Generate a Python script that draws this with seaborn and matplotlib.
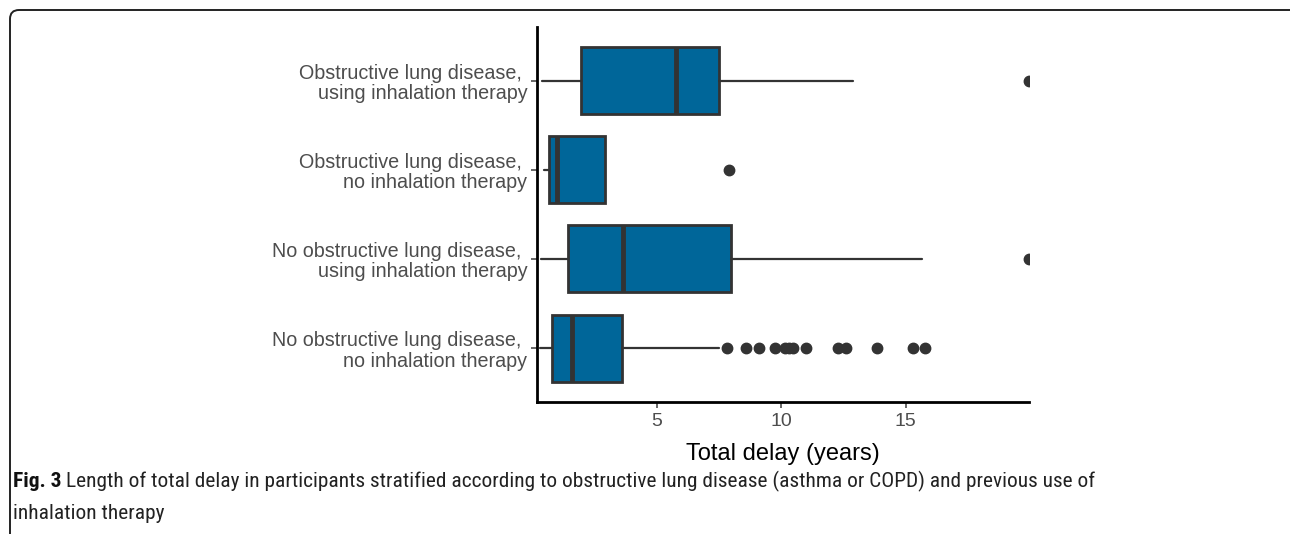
import numpy as np
import matplotlib
matplotlib.use("Agg")
import matplotlib.pyplot as plt
import seaborn as sns
from matplotlib.patches import FancyBboxPatch

# groups, top to bottom as in the figure
groups = [
    "Obstructive lung disease, \nusing inhalation therapy",
    "Obstructive lung disease, \nno inhalation therapy",
    "No obstructive lung disease, \nusing inhalation therapy",
    "No obstructive lung disease, \nno inhalation therapy",
]
# box statistics (years)
whis_lo = [0.39, 0.46, 0.33, 0.28]
q1 = [1.95, 0.66, 1.44, 0.77]
median = [5.76, 1.00, 3.63, 1.57]
q3 = [7.50, 2.91, 7.96, 3.61]
whis_hi = [12.88, 2.91, 15.63, 7.49]
outliers = [
    [19.95],
    [7.89],
    [19.95],
    [7.80, 8.56, 9.08, 9.73, 10.14, 10.29, 10.45, 10.98, 12.28, 12.58, 13.86, 15.29, 15.78],
]
x_ticks = [5, 10, 15]

sns.set_theme(style="ticks")
plt.rcParams["font.family"] = ["Liberation Sans", "DejaVu Sans"]

fig = plt.figure(figsize=(12.9, 5.34), dpi=100)
ax = fig.add_axes([0.4163, 0.2478, 0.3814, 0.7016])

stats = []
for i in range(len(groups)):
    stats.append(dict(whislo=whis_lo[i], q1=q1[i], med=median[i], q3=q3[i],
                      whishi=whis_hi[i], fliers=outliers[i], label=groups[i]))

pos = np.arange(len(groups), 0, -1)  # first group on top
ax.bxp(stats, positions=pos, widths=0.75, vert=False, patch_artist=True,
       showcaps=False,
       boxprops=dict(facecolor="#006699", edgecolor="#333333", linewidth=2),
       medianprops=dict(color="#333333", linewidth=3.5),
       whiskerprops=dict(color="#333333", linewidth=1.6),
       flierprops=dict(marker="o", markerfacecolor="#333333", markeredgecolor="#333333",
                       markersize=7.5))

ax.set_xlim(0.18, 19.95)
ax.set_ylim(0.4, 4.6)
ax.set_xticks(x_ticks)
ax.set_yticks(pos)
ax.set_yticklabels(groups, fontsize=14.2, color="#4d4d4d", ha="right", linespacing=1.1)
ax.tick_params(axis="x", labelsize=14, labelcolor="#4d4d4d", color="#4d4d4d",
               length=4, width=1.2, pad=4)
ax.tick_params(axis="y", color="#4d4d4d", length=4, width=1.2, pad=3)
ax.set_xlabel("Total delay (years)", fontsize=17, color="black", labelpad=9.5)
ax.set_ylabel("")
sns.despine(ax=ax)
for side in ["left", "bottom"]:
    ax.spines[side].set_linewidth(2)
    ax.spines[side].set_color("black")

# rounded frame around the whole figure
frame = FancyBboxPatch((10, -20), 1300, 534 - 10 + 20,
                       boxstyle="round,pad=0,rounding_size=9",
                       transform=None, fill=False, edgecolor="#222222", linewidth=1.4)
fig.patches.append(frame)

# caption
cap_font = ["Roboto Condensed", "Roboto", "DejaVu Sans"]
fig.canvas.draw()
r = fig.canvas.get_renderer()
t1 = fig.text(13 / 1290, 1 - 487 / 534, "Fig. 3", fontsize=15.4, fontweight="bold",
              family=cap_font, va="baseline", color="#111111")
bb = t1.get_window_extent(renderer=r)
fig.text((bb.x1 + 5) / 1290, 1 - 487 / 534,
         "Length of total delay in participants stratified according to obstructive lung disease "
         "(asthma or COPD) and previous use of",
         fontsize=15.4, family=cap_font, va="baseline", color="#222222")
fig.text(13 / 1290, 1 - 519 / 534, "inhalation therapy",
         fontsize=15.4, family=cap_font, va="baseline", color="#222222")

fig.savefig("out.png", dpi=100)
